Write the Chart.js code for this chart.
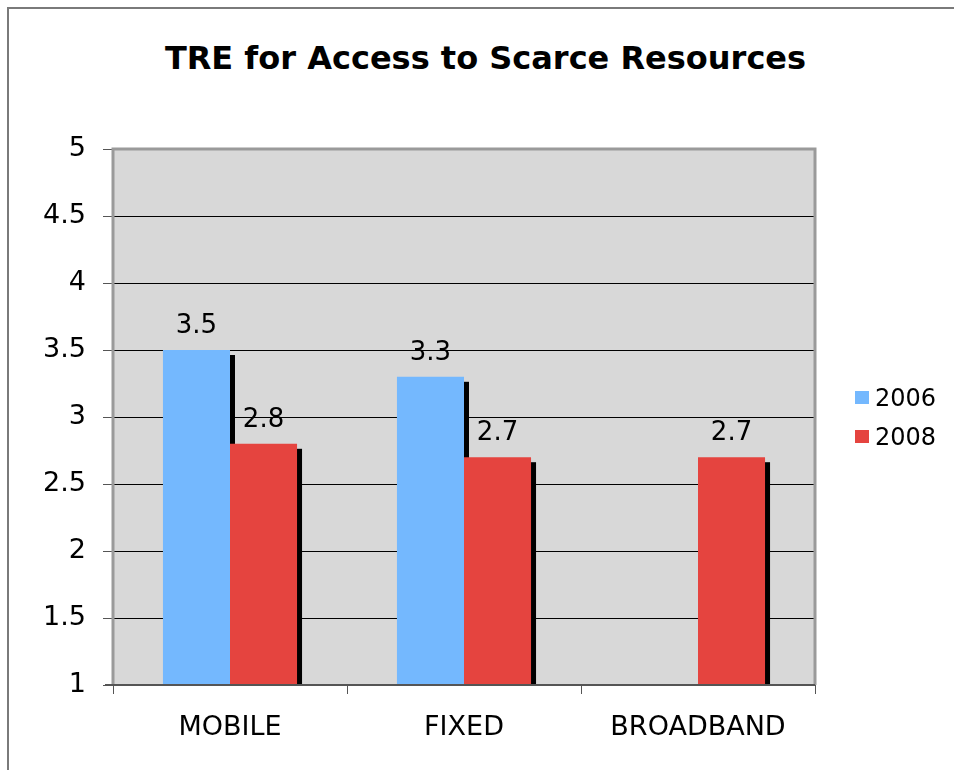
<!DOCTYPE html>
<html>
<head>
<meta charset="utf-8">
<script src="https://cdn.jsdelivr.net/npm/chart.js@4/dist/chart.umd.min.js"></script>
<style>
  html, body { margin: 0; padding: 0; background: #fff; overflow: hidden; }
  #wrap { position: relative; width: 954px; height: 770px; overflow: hidden; }
  #frame { position: absolute; left: 7px; top: 7px; right: 0; bottom: 0; border-left: 2px solid #7a7a7a; border-top: 2px solid #7a7a7a; }
  #title {
    position: absolute; left: 0; top: 39px; width: 971px; text-align: center;
    font: bold 32px "DejaVu Sans", Verdana, sans-serif; color: #000;
  }
  #legend { position: absolute; left: 855px; top: 378px; font: 24px "DejaVu Sans", Verdana, sans-serif; }
  .item { display: flex; align-items: center; height: 39px; }
  .swatch { width: 14px; height: 13px; margin-right: 6px; }
  canvas { position: absolute; left: 0; top: 0; }
</style>
</head>
<body>
<div id="wrap">
  <div id="frame"></div>
  <div id="title">TRE for Access to Scarce Resources</div>
  <canvas id="chart" width="954" height="770"></canvas>
  <div id="legend"></div>
</div>
<script>
// Scores by access category
const categories = ['MOBILE', 'FIXED', 'BROADBAND'];
const seriesNames = ['2006', '2008'];
const values2006 = [3.5, 3.3, null];
const values2008 = [2.8, 2.7, 2.7];
const yTicks = [1, 1.5, 2, 2.5, 3, 3.5, 4, 4.5, 5];

const colors = ['#74b8fe', '#e5443f'];
const font = '"DejaVu Sans", Verdana, sans-serif';

// grey plot background with border
const plotBackground = {
  id: 'plotBackground',
  beforeDraw(chart) {
    const { ctx, chartArea: a } = chart;
    ctx.save();
    ctx.fillStyle = '#d8d8d8';
    ctx.fillRect(a.left, a.top, a.right - a.left, a.bottom - a.top);
    ctx.restore();
  },
  afterDraw(chart) {
    const { ctx, chartArea: a } = chart;
    ctx.save();
    ctx.strokeStyle = '#9a9a9a';
    ctx.lineWidth = 3;
    ctx.beginPath();
    ctx.moveTo(a.left, a.bottom);
    ctx.lineTo(a.left, a.top);
    ctx.lineTo(a.right, a.top);
    ctx.lineTo(a.right, a.bottom);
    ctx.stroke();
    ctx.strokeStyle = '#555';
    ctx.lineWidth = 2;
    ctx.beginPath();
    ctx.moveTo(a.left - 8, a.bottom);
    ctx.lineTo(a.right, a.bottom);
    ctx.stroke();
    ctx.restore();
  }
};

// black drop shadow behind each bar
const barShadow = {
  id: 'barShadow',
  beforeDatasetsDraw(chart) {
    const { ctx, chartArea: a } = chart;
    ctx.save();
    ctx.beginPath();
    ctx.rect(a.left, a.top, a.right - a.left, a.bottom - a.top);
    ctx.clip();
    ctx.fillStyle = '#000';
    chart.data.datasets.forEach((ds, i) => {
      chart.getDatasetMeta(i).data.forEach((bar, j) => {
        if (ds.data[j] == null) return;
        const p = bar.getProps(['x', 'y', 'base', 'width'], true);
        ctx.fillRect(p.x - p.width / 2 + 5, p.y + 5, p.width, p.base - p.y);
      });
    });
    ctx.restore();
  }
};

// value labels above bars
const valueLabels = {
  id: 'valueLabels',
  afterDatasetsDraw(chart) {
    const { ctx } = chart;
    ctx.save();
    ctx.font = '26px ' + font;
    ctx.fillStyle = '#000';
    ctx.textAlign = 'center';
    ctx.textBaseline = 'alphabetic';
    chart.data.datasets.forEach((ds, i) => {
      chart.getDatasetMeta(i).data.forEach((bar, j) => {
        const v = ds.data[j];
        if (v == null) return;
        ctx.fillText(v.toFixed(1), bar.x, bar.y - 17);
      });
    });
    ctx.restore();
  }
};

new Chart(document.getElementById('chart'), {
  type: 'bar',
  data: {
    labels: categories,
    datasets: [
      { label: seriesNames[0], data: values2006, backgroundColor: colors[0] },
      { label: seriesNames[1], data: values2008, backgroundColor: colors[1] }
    ]
  },
  options: {
    responsive: false,
    animation: false,
    layout: { padding: { top: 149, right: 139, left: 0, bottom: 0 } },
    datasets: { bar: { barPercentage: 1, categoryPercentage: 0.573, borderWidth: 0 } },
    plugins: { legend: { display: false }, title: { display: false }, tooltip: { enabled: false } },
    scales: {
      x: {
        grid: { drawOnChartArea: false, drawTicks: true, tickLength: 9, color: '#555', offset: true },
        border: { display: false },
        ticks: { color: '#000', font: { family: font, size: 27 }, padding: 18 },
        afterFit(scale) { scale.height = 85; }
      },
      y: {
        min: 1,
        max: 5,
        afterBuildTicks(scale) { scale.ticks = yTicks.map(v => ({ value: v })); },
        grid: { color: '#000', lineWidth: 1, tickLength: 10, tickColor: '#555' },
        border: { display: false },
        ticks: {
          color: '#000',
          font: { family: font, size: 27 },
          padding: 17,
          callback: v => String(v)
        },
        afterFit(scale) { scale.width = 113; }
      }
    }
  },
  plugins: [plotBackground, barShadow, valueLabels]
});

// legend
const legend = document.getElementById('legend');
seriesNames.forEach((name, i) => {
  const item = document.createElement('div');
  item.className = 'item';
  const sw = document.createElement('div');
  sw.className = 'swatch';
  sw.style.background = colors[i];
  const label = document.createElement('span');
  label.textContent = name;
  item.appendChild(sw);
  item.appendChild(label);
  legend.appendChild(item);
});
</script>
</body>
</html>
